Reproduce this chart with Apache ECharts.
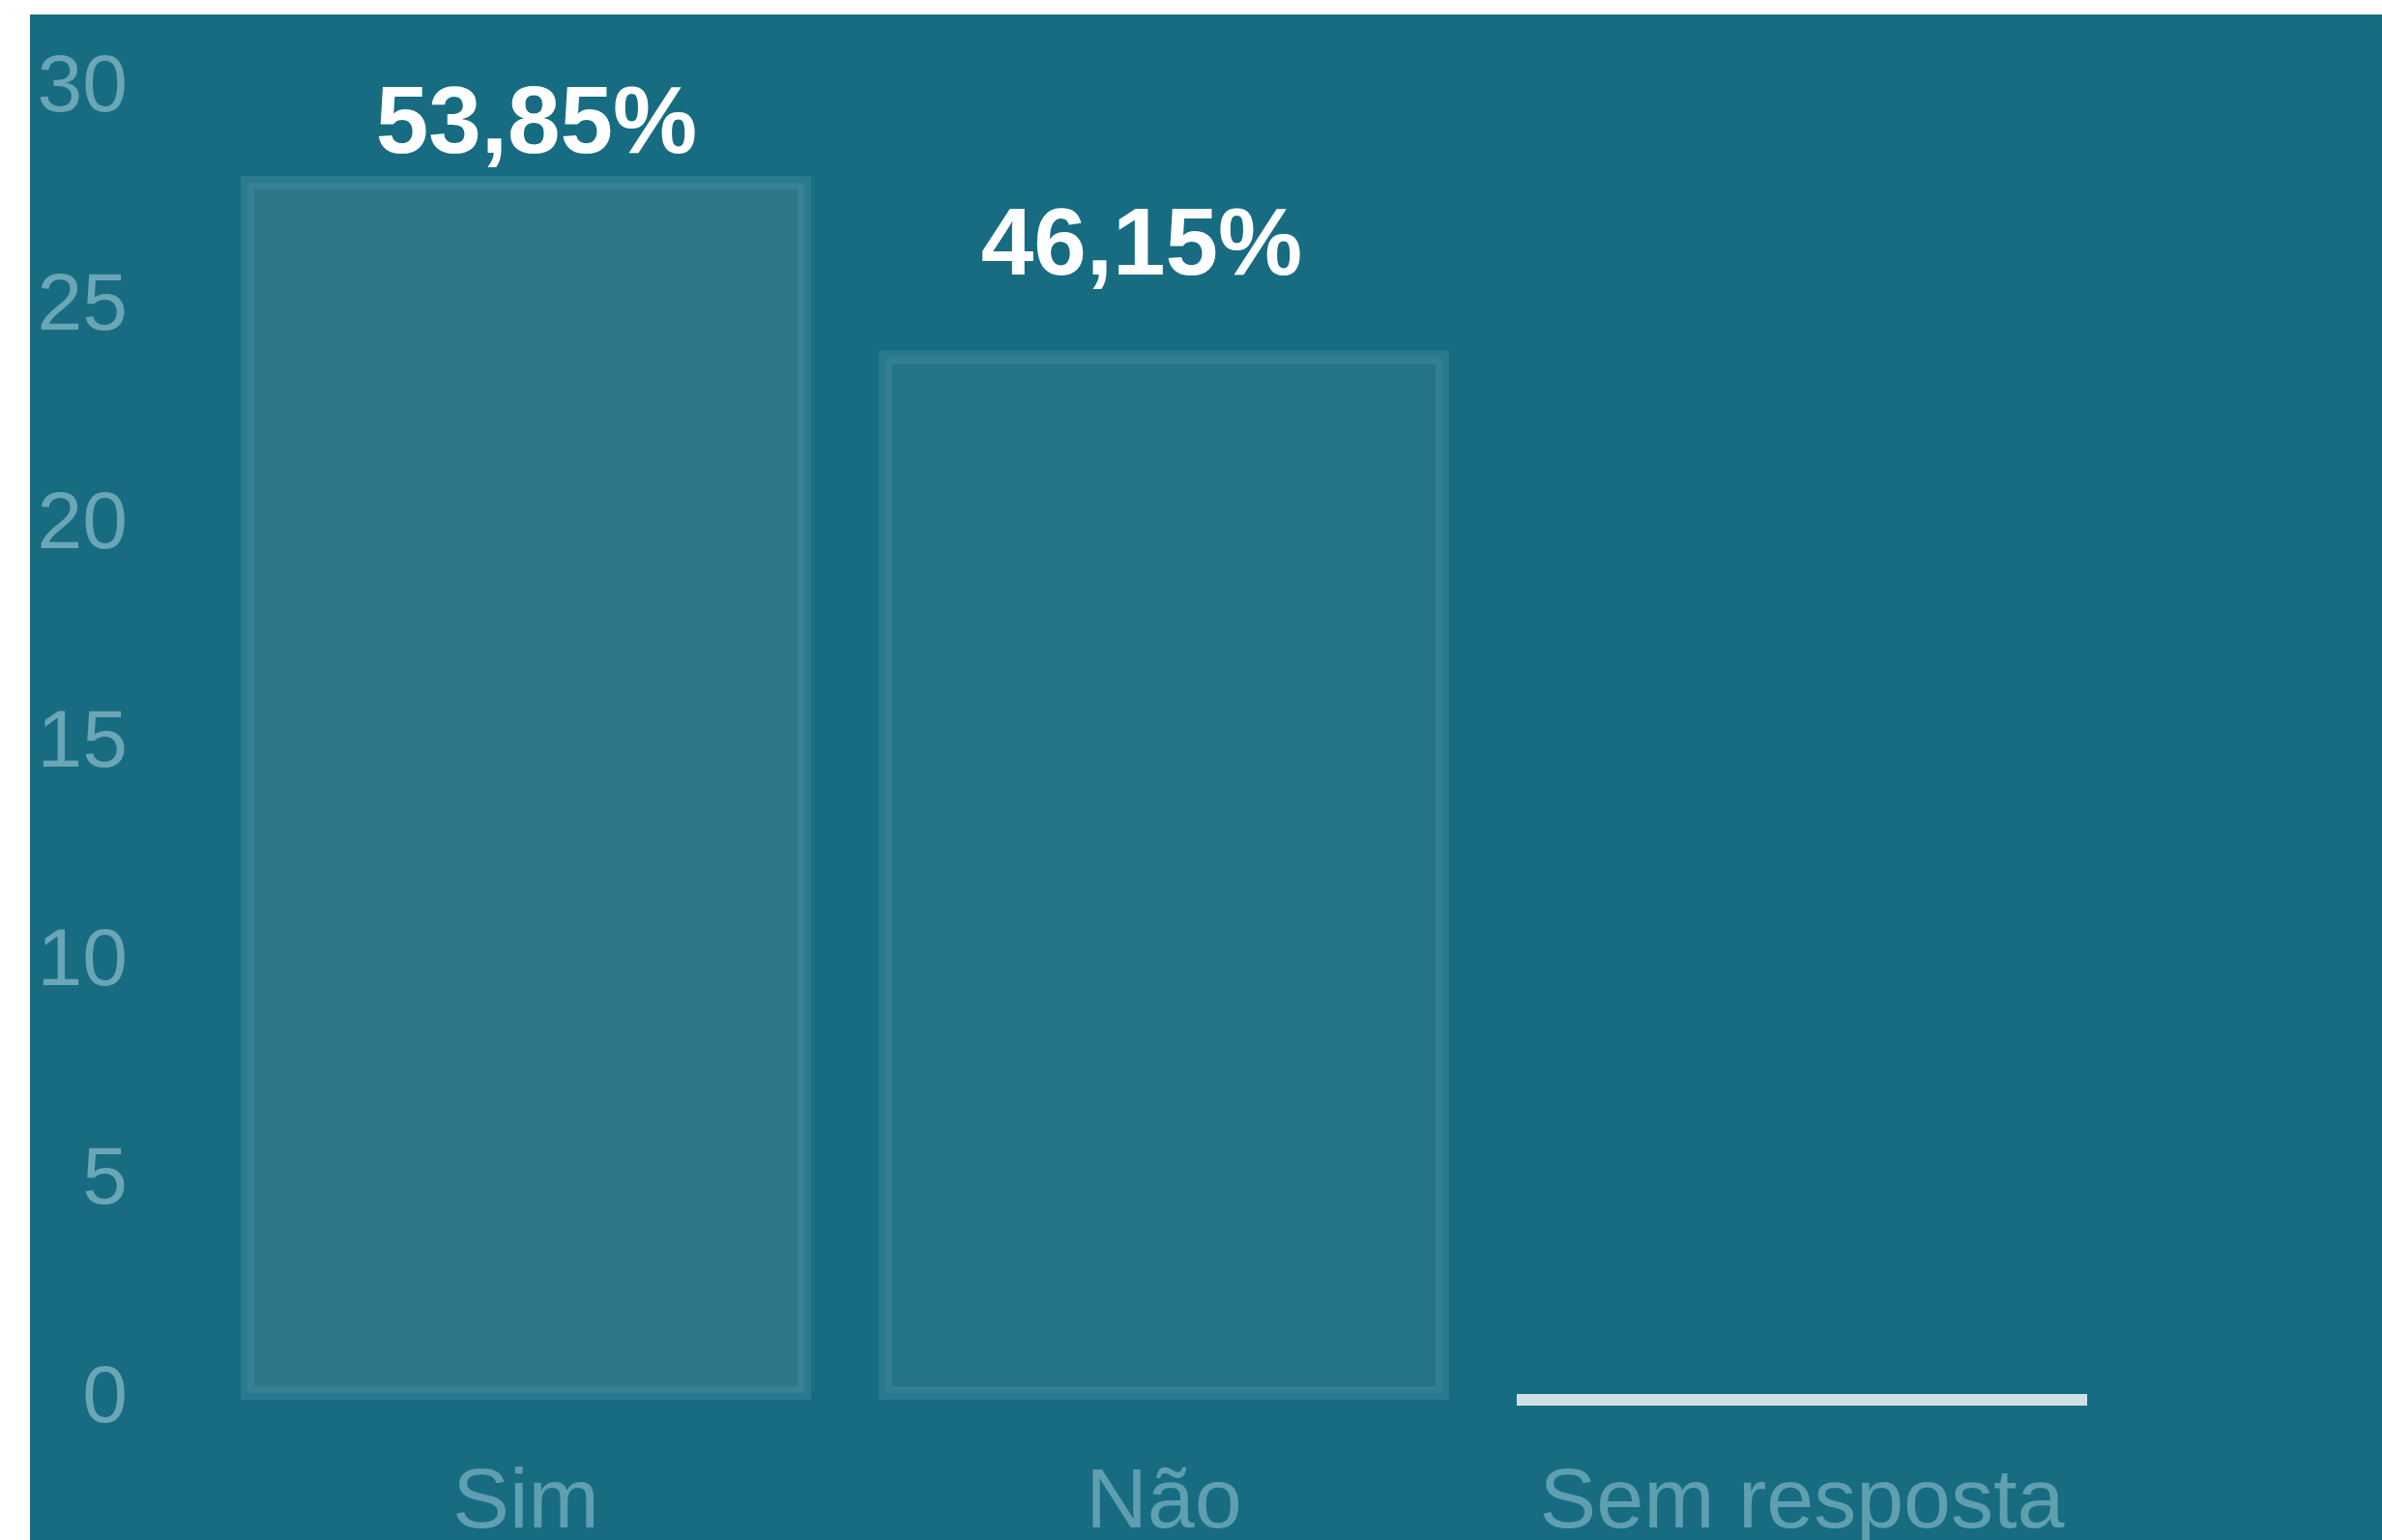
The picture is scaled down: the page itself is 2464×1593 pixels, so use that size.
<!DOCTYPE html>
<html>
<head>
<meta charset="utf-8">
<script src="https://cdn.jsdelivr.net/npm/echarts@6/dist/echarts.min.js"></script>
<style>
  html, body { margin: 0; padding: 0; background: #fff; }
  #chart {
    position: absolute;
    left: 31px;
    top: 15px;
    width: 2433px;
    height: 1578px;
  }
</style>
</head>
<body>
<div id="chart"></div>
<script>
const categories = ["Sim", "Não", "Sem resposta"];
const counts = [28, 24, 0];
const yTicks = [0, 5, 10, 15, 20, 25, 30];

// style only (not data)
const barColors = ["#2b7789", "#247488", "#d0e0e6"];
const labelOffsets = [[11, 4], [-23, -51], [0, 0]];

const total = counts.reduce((a, b) => a + b, 0);

const chart = echarts.init(document.getElementById("chart"));

const option = {
  backgroundColor: "#176c82",
  animation: false,
  grid: {
    left: 183,
    right: 270,
    top: 76.5,
    bottom: 145,
    containLabel: false,
    outerBoundsMode: "none",
  },
  xAxis: {
    type: "category",
    data: categories,
    axisLine: { show: false },
    axisTick: { show: false },
    axisLabel: {
      interval: 0,
      color: "#5f9fb0",
      fontFamily: "Liberation Sans, Arial, sans-serif",
      fontSize: 88,
      margin: 64,
    },
  },
  yAxis: {
    type: "value",
    min: yTicks[0],
    max: yTicks[yTicks.length - 1],
    interval: yTicks[1] - yTicks[0],
    axisLine: { show: false },
    axisTick: { show: false },
    splitLine: { show: false },
    axisLabel: {
      color: "#6aa6b5",
      fontFamily: "Liberation Sans, Arial, sans-serif",
      fontSize: 84,
      margin: 82,
      padding: [20, 0, 0, 0],
    },
  },
  series: [
    {
      type: "bar",
      barCategoryGap: "10.6%",
      data: counts.map((v, i) => ({
        value: v,
        itemStyle: v === 0
          ? { color: barColors[i], borderColor: barColors[i], borderWidth: 12 }
          : { color: barColors[i] },
        label: { offset: labelOffsets[i] },
      })),
      itemStyle: {
        borderColor: "rgba(72, 145, 163, 0.4)",
        borderWidth: 14,
      },
      label: {
        show: true,
        position: "top",
        distance: 6,
        color: "#ffffff",
        fontFamily: "Liberation Sans, Arial, sans-serif",
        fontWeight: "bold",
        fontSize: 98,
        formatter: (p) =>
          p.value === 0 ? "" : ((p.value / total) * 100).toFixed(2).replace(".", ",") + "%",
      },
    },
  ],
};

chart.setOption(option);
</script>
</body>
</html>
